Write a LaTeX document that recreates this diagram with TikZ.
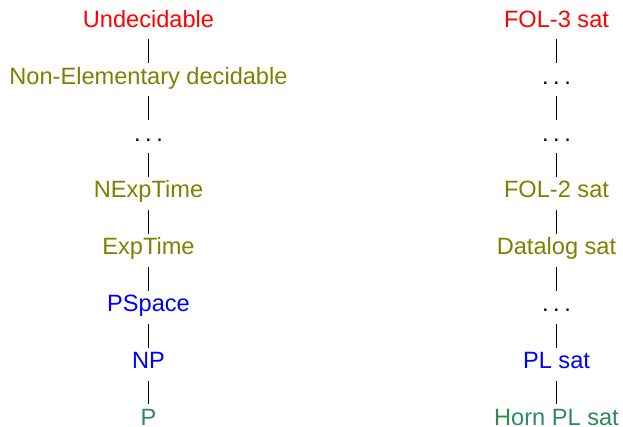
\documentclass[tikz,border=0pt]{standalone}
\usepackage{fontspec}
\setmainfont{Liberation Sans}
\definecolor{undec}{RGB}{255,0,0}
\definecolor{hard}{RGB}{128,128,0}
\definecolor{poly}{RGB}{0,0,255}
\definecolor{easy}{RGB}{46,139,87}
\newcommand{\spdots}{.\hspace{0.19em}.\hspace{0.19em}.}
\tikzset{
  cls/.style={anchor=base, inner xsep=2pt, inner ysep=4pt,
    text height=17pt, text depth=7.7pt,
    font=\fontsize{23.6}{28}\selectfont},
  link/.style={draw=black, line width=0.9pt},
}
\begin{document}
\begin{tikzpicture}[x=1pt, y=-1pt]
\useasboundingbox (0,0) rectangle (623,427);
% complexity classes
\node[cls, text=undec] (l0) at (148.5, 27.3) {Undecidable};
\node[cls, text=hard]  (l1) at (148.5, 84.2) {Non-Elementary decidable};
\node[cls]             (l2) at (148.5,141.1) {\spdots};
\node[cls, text=hard]  (l3) at (148.5,198.0) {NExpTime};
\node[cls, text=hard]  (l4) at (148.5,254.9) {ExpTime};
\node[cls, text=poly]  (l5) at (148.5,311.8) {PSpace};
\node[cls, text=poly]  (l6) at (148.5,368.7) {NP};
\node[cls, text=easy]  (l7) at (148.5,425.6) {P};
% satisfiability problems
\node[cls, text=undec] (r0) at (556.5, 27.3) {FOL-3 sat};
\node[cls]             (r1) at (556.5, 84.2) {\spdots};
\node[cls]             (r2) at (556.5,141.1) {\spdots};
\node[cls, text=hard]  (r3) at (556.5,198.0) {FOL-2 sat};
\node[cls, text=hard]  (r4) at (556.5,254.9) {Datalog sat};
\node[cls]             (r5) at (556.5,311.8) {\spdots};
\node[cls, text=poly]  (r6) at (556.5,368.7) {PL sat};
\node[cls, text=easy]  (r7) at (556.5,425.6) {Horn PL sat};
\foreach \a/\b in {0/1,1/2,2/3,3/4,4/5,5/6,6/7}{
  \draw[link] (l\a) -- (l\b);
  \draw[link] (r\a) -- (r\b);
}
\end{tikzpicture}
\end{document}
